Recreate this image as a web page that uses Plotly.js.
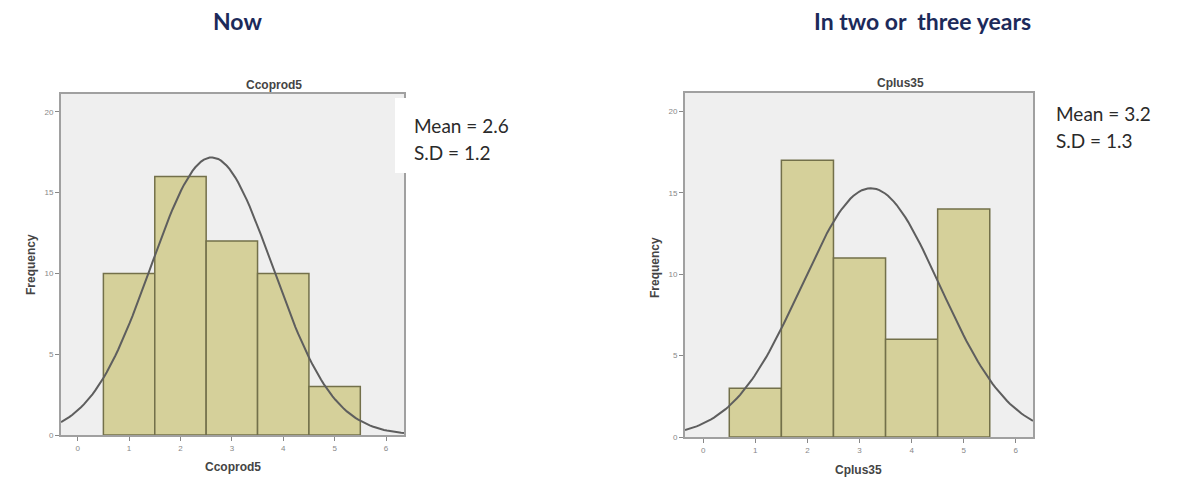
<!DOCTYPE html>
<html>
<head>
<meta charset="utf-8">
<script src="https://cdn.plot.ly/plotly-3.0.1.min.js"></script>
<style>
html,body{margin:0;padding:0;background:#fff;}
#chart{width:1179px;height:487px;}
</style>
</head>
<body>
<div id="chart"></div>
<script>
// ---- data ----
const categories = [1, 2, 3, 4, 5];
const nowCounts = [10, 16, 12, 10, 3];       // Ccoprod5
const futureCounts = [3, 17, 11, 6, 14];     // Cplus35
const nowVar = "Ccoprod5";
const futureVar = "Cplus35";
const nowStats = ["Mean = 2.6", "S.D = 1.2"];
const futureStats = ["Mean = 3.2", "S.D = 1.3"];
const yTicks = [0, 5, 10, 15, 20];
const xTicks = [0, 1, 2, 3, 4, 5, 6];

// fitted normal curve (as drawn by SPSS) from the binned frequencies
function normalCurve(counts, xmin, xmax) {
  const n = counts.reduce((a, b) => a + b, 0);
  let s = 0, s2 = 0;
  categories.forEach((c, i) => { s += c * counts[i]; s2 += c * c * counts[i]; });
  const mean = s / n;
  const sd = Math.sqrt((s2 - n * mean * mean) / (n - 1));
  const xs = [], ys = [];
  const steps = 120;
  for (let k = 0; k <= steps; k++) {
    const x = xmin + (xmax - xmin) * k / steps;
    xs.push(x);
    ys.push(n / (sd * Math.sqrt(2 * Math.PI)) * Math.exp(-0.5 * Math.pow((x - mean) / sd, 2)));
  }
  return {xs, ys};
}

const W = 1179, H = 487;
const px = v => v / W;
const py = v => 1 - v / H;

const barFill = "#d5d09a";
const barLine = "#73704a";
const curveColor = "#5e5e5e";

const xr1 = [-0.325, 6.35], xr2 = [-0.35, 6.33];
const c1 = normalCurve(nowCounts, xr1[0], xr1[1]);
const c2 = normalCurve(futureCounts, xr2[0], xr2[1]);

const traces = [
  {type: "bar", x: categories, y: nowCounts, width: 1, xaxis: "x", yaxis: "y",
   marker: {color: barFill, line: {color: barLine, width: 1.5}}, hoverinfo: "x+y"},
  {type: "scatter", mode: "lines", x: c1.xs, y: c1.ys, xaxis: "x", yaxis: "y",
   line: {color: curveColor, width: 2}, hoverinfo: "skip"},
  {type: "bar", x: categories, y: futureCounts, width: 1, xaxis: "x2", yaxis: "y2",
   marker: {color: barFill, line: {color: barLine, width: 1.5}}, hoverinfo: "x+y"},
  {type: "scatter", mode: "lines", x: c2.xs, y: c2.ys, xaxis: "x2", yaxis: "y2",
   line: {color: curveColor, width: 2}, hoverinfo: "skip"}
];

const axisCommon = {
  showgrid: false, zeroline: false, showline: true, mirror: true,
  linecolor: "#a0a0a0", linewidth: 2,
  ticks: "outside", ticklen: 4, tickcolor: "#888", tickwidth: 1,
  tickfont: {family: "Arial, Liberation Sans, sans-serif", size: 8, color: "#888888"},
  fixedrange: true
};

const layout = {
  width: W, height: H,
  margin: {l: 0, r: 0, t: 0, b: 0},
  paper_bgcolor: "#ffffff",
  plot_bgcolor: "#efefef",
  showlegend: false,
  bargap: 0,
  xaxis: Object.assign({}, axisCommon, {domain: [px(61), px(404)], range: xr1, tickvals: xTicks, anchor: "y"}),
  yaxis: Object.assign({}, axisCommon, {domain: [py(435), py(94)], range: [0, 21.1], tickvals: yTicks, anchor: "x"}),
  xaxis2: Object.assign({}, axisCommon, {domain: [px(685), px(1033)], range: xr2, tickvals: xTicks, anchor: "y2"}),
  yaxis2: Object.assign({}, axisCommon, {domain: [py(437), py(93)], range: [0, 21.13], tickvals: yTicks, anchor: "x2"}),
  shapes: [
    {type: "rect", xref: "paper", yref: "paper", x0: px(395), x1: px(545), y0: py(173), y1: py(98),
     fillcolor: "#ffffff", line: {width: 0}, layer: "above"}
  ],
  annotations: []
};

const titleFont = {family: "Lato, Open Sans, sans-serif", size: 23, color: "#1c2a5a", weight: "bold"};
const smallBold = {family: "Arial, Liberation Sans, sans-serif", size: 12, color: "#444", weight: "bold"};
const statFont = {family: "Lato, Open Sans, sans-serif", size: 19, color: "#2a2a2a"};

function ann(text, x, y, font, opts) {
  layout.annotations.push(Object.assign({
    text: text, xref: "paper", yref: "paper", x: px(x), y: py(y),
    xanchor: "center", yanchor: "middle", showarrow: false, font: font
  }, opts || {}));
}

ann("<b>Now</b>", 237, 21, titleFont);
ann("<b>In two or  three years</b>", 923, 21, titleFont);

ann("<b>" + nowVar + "</b>", 274, 85, smallBold);
ann("<b>" + futureVar + "</b>", 900, 83, smallBold);
ann("<b>" + nowVar + "</b>", 233, 467, smallBold);
ann("<b>" + futureVar + "</b>", 858, 470, smallBold);
ann("<b>Frequency</b>", 31, 265, smallBold, {textangle: -90});
ann("<b>Frequency</b>", 655, 268, smallBold, {textangle: -90});

ann(nowStats[0], 412, 126, statFont, {xanchor: "left"});
ann(nowStats[1], 412, 153, statFont, {xanchor: "left"});
ann(futureStats[0], 1054, 113, statFont, {xanchor: "left"});
ann(futureStats[1], 1054, 140, statFont, {xanchor: "left"});

Plotly.newPlot("chart", traces, layout, {displayModeBar: false, staticPlot: true});
</script>
</body>
</html>
